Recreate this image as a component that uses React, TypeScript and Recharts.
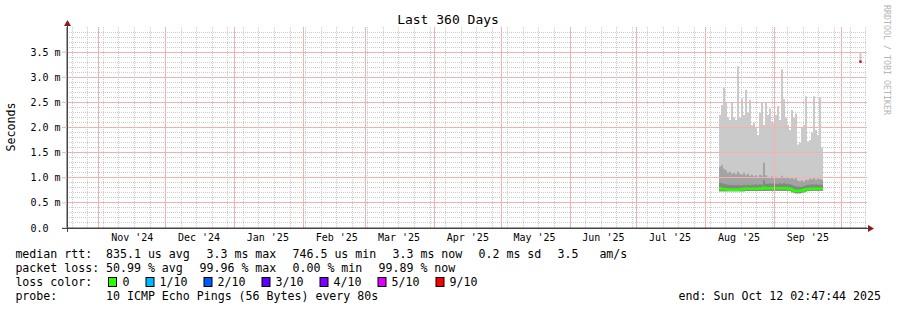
import React from 'react';
import { ComposedChart, Area, Line, XAxis, YAxis, CartesianGrid, ReferenceLine } from 'recharts';

const MONO = '"DejaVu Sans Mono", "Liberation Mono", monospace';

// ---- x axis: days since graph start (Oct 17 2024) ----
const monthLabels = ["Nov '24", "Dec '24", "Jan '25", "Feb '25", "Mar '25", "Apr '25", "May '25", "Jun '25", "Jul '25", "Aug '25", "Sep '25"];
const monthLabelDays = [29.38, 59.38, 90.38, 121.38, 149.38, 180.38, 210.38, 241.38, 271.38, 302.38, 333.38];
const monthStartDays = [14.38, 44.38, 75.38, 106.38, 134.38, 165.38, 195.38, 226.38, 256.38, 287.38, 318.38, 348.38];
const weekStartDays = Array.from({ length: 52 }, (_, k) => 2.38 + 7 * k);

// ---- y axis (milliseconds) ----
const yTickValues = [0, 0.5, 1, 1.5, 2, 2.5, 3, 3.5];
const yTickLabels = ['0.0  ', '0.5 m', '1.0 m', '1.5 m', '2.0 m', '2.5 m', '3.0 m', '3.5 m'];
const yMajorGrid = [0.5, 1, 1.5, 2, 2.5, 3, 3.5];
const yMinorGrid = Array.from({ length: 39 }, (_, i) => (i + 1) / 10).filter((v) => Math.round(v * 10) % 5 !== 0);

// ---- smoke data (ms) ----
const smokeDays = [293.4, 294.3, 295.2, 296.1, 297.0, 297.9, 298.8, 299.7, 300.6, 301.5, 302.4, 303.3, 304.2, 305.1, 306.0, 306.9, 307.8, 308.7, 309.6, 310.5, 311.4, 312.3, 313.2, 314.1, 315.0, 315.9, 316.8, 317.7, 318.6, 319.5, 320.4, 321.3, 322.2, 323.1, 324.0, 324.9, 325.8, 326.7, 327.6, 328.5, 329.4, 330.3, 331.2, 332.1, 333.0, 333.9, 334.8, 335.7, 336.6, 337.5, 338.4, 339.3];
const smokeMax = [2.25, 2.45, 2.8, 2.5, 2.2, 2.15, 2.5, 2.2, 2.15, 3.22, 2.2, 2.58, 2.25, 2.75, 2.3, 2.55, 2.05, 2.1, 2.0, 1.85, 2.3, 2.5, 2.05, 2.5, 2.25, 2.38, 2.12, 2.08, 2.25, 2.43, 2.15, 3.16, 2.56, 2.2, 2.05, 1.95, 2.35, 2.2, 2.28, 1.66, 1.7, 2.0, 2.05, 2.62, 1.72, 1.75, 1.9, 2.62, 1.95, 1.85, 2.6, 1.6];
const smokeMidTop = [1.22, 1.25, 1.18, 1.15, 1.1, 1.12, 1.08, 1.1, 1.07, 1.12, 1.08, 1.06, 1.1, 1.05, 1.08, 1.04, 1.06, 1.03, 1.05, 1.02, 1.06, 1.04, 1.3, 1.05, 1.02, 1.0, 1.03, 1.0, 1.02, 0.99, 1.01, 1.04, 1.0, 0.99, 1.02, 0.98, 1.0, 0.97, 0.99, 0.94, 0.93, 0.95, 0.92, 0.96, 0.95, 0.98, 0.97, 0.99, 0.96, 0.98, 0.97, 0.96];
const smokeDarkTop = [0.9, 0.89, 0.88, 0.87, 0.86, 0.86, 0.85, 0.86, 0.85, 0.86, 0.85, 0.85, 0.86, 0.85, 0.86, 0.85, 0.86, 0.86, 0.87, 0.86, 0.87, 0.86, 0.95, 0.88, 0.88, 0.89, 0.88, 0.89, 0.88, 0.88, 0.89, 0.88, 0.89, 0.88, 0.88, 0.87, 0.86, 0.84, 0.83, 0.82, 0.82, 0.82, 0.83, 0.85, 0.86, 0.86, 0.87, 0.86, 0.87, 0.86, 0.86, 0.86];
const smokeMedian = [0.79, 0.775, 0.775, 0.77, 0.765, 0.76, 0.76, 0.765, 0.76, 0.765, 0.765, 0.77, 0.775, 0.78, 0.78, 0.78, 0.78, 0.78, 0.78, 0.78, 0.785, 0.78, 0.8, 0.79, 0.79, 0.79, 0.795, 0.79, 0.79, 0.79, 0.79, 0.79, 0.79, 0.79, 0.785, 0.78, 0.765, 0.745, 0.735, 0.735, 0.74, 0.745, 0.755, 0.77, 0.775, 0.78, 0.78, 0.78, 0.78, 0.78, 0.78, 0.78];
const smokeMin = [0.73, 0.73, 0.73, 0.73, 0.73, 0.73, 0.73, 0.73, 0.73, 0.73, 0.73, 0.73, 0.73, 0.735, 0.735, 0.735, 0.735, 0.735, 0.735, 0.735, 0.735, 0.735, 0.735, 0.74, 0.74, 0.74, 0.74, 0.74, 0.74, 0.74, 0.74, 0.74, 0.74, 0.74, 0.74, 0.735, 0.71, 0.7, 0.69, 0.69, 0.69, 0.7, 0.71, 0.725, 0.735, 0.74, 0.74, 0.74, 0.74, 0.74, 0.74, 0.74];
const closeDay = 340.2;
const gapDay = 348;

// ---- latest sample (heavy loss) ----
const endDays = [356.6, 357.5];
const endMin = [3.3, 3.3];
const endMax = [3.5, 3.5];
const endMedian = [3.31, 3.31];

// ---- legend ----
const lossColors = ['#26ff00', '#00b8ff', '#0059ff', '#5e00ff', '#7e00ff', '#dd00ff', '#ff0000'];
const lossLabels = ['0', '1/10', '2/10', '3/10', '4/10', '5/10', '9/10'];
const lossBoxX = [108, 145.5, 203.5, 261.5, 319.5, 377.5, 435.5];
const lossLabelX = [122.5, 159.5, 217.5, 275.5, 333.5, 391.5, 449.5];
const legendRows: [number, number, string][] = [
  [15.4, 258, 'median rtt:'],
  [106, 258, '835.1 us avg'],
  [206.5, 258, '3.3 ms max'],
  [292.5, 258, '746.5 us min'],
  [392.5, 258, '3.3 ms now'],
  [478.5, 258, '0.2 ms sd'],
  [557.5, 258, '3.5   am/s'],
  [15.4, 272, 'packet loss:'],
  [106, 272, '50.99 % avg'],
  [199.5, 272, '99.96 % max'],
  [292.5, 272, '0.00 % min'],
  [378.5, 272, '99.89 % now'],
  [15.4, 286, 'loss color:'],
  [15.4, 300, 'probe:'],
  [106, 300, '10 ICMP Echo Pings (56 Bytes) every 80s'],
];
const endStamp = 'end: Sun Oct 12 02:47:44 2025';

type Row = {
  day: number;
  light: number[] | null;
  mid: number[] | null;
  dark: number[] | null;
  median: number | null;
  lossEnd: number | null;
};

const rows: Row[] = smokeDays.map((d, i) => ({
  day: d,
  light: [smokeMin[i], smokeMax[i]],
  mid: [smokeMin[i], smokeMidTop[i]],
  dark: [smokeMin[i], smokeDarkTop[i]],
  median: smokeMedian[i],
  lossEnd: null,
}));
{
  const li = smokeDays.length - 1;
  rows.push({
    day: closeDay,
    light: [smokeMin[li], smokeMax[li]],
    mid: [smokeMin[li], smokeMidTop[li]],
    dark: [smokeMin[li], smokeDarkTop[li]],
    median: smokeMedian[li],
    lossEnd: null,
  });
  rows.push({ day: gapDay, light: null, mid: null, dark: null, median: null, lossEnd: null });
  endDays.forEach((d, i) => {
    rows.push({
      day: d,
      light: [endMin[i], endMax[i]],
      mid: [endMin[i], endMin[i] + 0.04],
      dark: [endMin[i], endMin[i] + 0.02],
      median: null,
      lossEnd: endMedian[i],
    });
  });
}

const YTick = (props: any) => {
  const { x, y, payload } = props;
  const idx = yTickValues.indexOf(payload.value);
  return (
    <text x={x} y={y} dy="0.355em" textAnchor="end" fontFamily={MONO} fontSize={10} fill="#000" style={{ whiteSpace: 'pre' }}>
      {idx >= 0 ? yTickLabels[idx] : ''}
    </text>
  );
};

const XTick = (props: any) => {
  const { x, y, payload } = props;
  const i = monthLabelDays.indexOf(payload.value);
  return (
    <text x={x} y={y} dy="0.71em" textAnchor="middle" fontFamily={MONO} fontSize={10} fill="#000">
      {i >= 0 ? monthLabels[i] : ''}
    </text>
  );
};

const MAJOR = '#f5b0b0';

export default function App() {
  return (
    <div style={{ position: 'absolute', left: 0, top: 0, width: 897, height: 310, background: '#fff' }}>
      <ComposedChart width={897} height={310} data={rows} margin={{ top: 27, right: 30, bottom: 52, left: 7 }}>
        <CartesianGrid
          horizontalValues={yMinorGrid}
          verticalValues={weekStartDays}
          stroke="#cccccc"
          strokeDasharray="1 1"
          shapeRendering="crispEdges"
          fill="none"
        />
        <XAxis
          dataKey="day"
          type="number"
          domain={[0, 360]}
          allowDataOverflow
          ticks={monthLabelDays}
          interval={0}
          tickLine={false}
          tickSize={6}
          tickMargin={0}
          height={30}
          axisLine={{ stroke: '#444' }}
          tick={<XTick />}
        />
        <YAxis
          type="number"
          domain={[0, 4]}
          allowDataOverflow
          ticks={yTickValues}
          interval={0}
          width={60}
          tickSize={5}
          tickMargin={1.5}
          tickLine={{ stroke: MAJOR }}
          axisLine={{ stroke: '#444' }}
          tick={<YTick />}
        />
        <Area dataKey="light" type="stepAfter" stroke="none" fill="#cacaca" fillOpacity={1} isAnimationActive={false} />
        <Area dataKey="mid" type="stepAfter" stroke="none" fill="#a3a3a3" fillOpacity={1} isAnimationActive={false} />
        <Area dataKey="dark" type="stepAfter" stroke="none" fill="#868686" fillOpacity={1} isAnimationActive={false} />
        <Line dataKey="median" type="stepAfter" stroke="#26ff00" strokeWidth={2.5} dot={false} isAnimationActive={false} />
        <Line dataKey="lossEnd" type="stepAfter" stroke="#ff0000" strokeWidth={2.5} dot={false} isAnimationActive={false} />
        {yMajorGrid.map((v) => (
          <ReferenceLine key={'h' + v} y={v} stroke={MAJOR} strokeWidth={1} shapeRendering="crispEdges" />
        ))}
        {monthStartDays.map((v) => (
          <ReferenceLine key={'v' + v} x={v} stroke={MAJOR} strokeWidth={1} shapeRendering="crispEdges" />
        ))}
      </ComposedChart>
      <svg width={897} height={310} style={{ position: 'absolute', left: 0, top: 0, pointerEvents: 'none' }}>
        <text x={448} y={23.5} textAnchor="middle" fontFamily={MONO} fontSize={13} fill="#000">Last 360 Days</text>
        <text transform="translate(15,127) rotate(-90)" textAnchor="middle" fontFamily={MONO} fontSize={11.6} fill="#000">Seconds</text>
        <text transform="translate(883.5,5) rotate(90)" fontFamily={MONO} fontSize={8.3} fill="#b4b4b4">RRDTOOL / TOBI OETIKER</text>
        <line x1={62} y1={228.5} x2={868} y2={228.5} stroke="#444" strokeWidth={1} />
        <line x1={67.5} y1={232} x2={67.5} y2={26} stroke="#444" strokeWidth={1} />
        <polygon points="868,225 868,232 874,228.5" fill="#8b1a1a" />
        <polygon points="64,26 71,26 67.5,20" fill="#8b1a1a" />
        {legendRows.map(([x, y, t], i) => (
          <text key={i} x={x} y={y} fontFamily={MONO} fontSize={11.6} fill="#000" style={{ whiteSpace: 'pre' }}>{t}</text>
        ))}
        {lossColors.map((c, i) => (
          <rect key={'b' + i} x={lossBoxX[i] + 0.5} y={277.5} width={8} height={9} fill={c} stroke="#000" strokeWidth={1} />
        ))}
        {lossLabels.map((t, i) => (
          <text key={'l' + i} x={lossLabelX[i]} y={286} fontFamily={MONO} fontSize={11.6} fill="#000">{t}</text>
        ))}
        <text x={881} y={300} textAnchor="end" fontFamily={MONO} fontSize={11.6} fill="#000">{endStamp}</text>
      </svg>
    </div>
  );
}
